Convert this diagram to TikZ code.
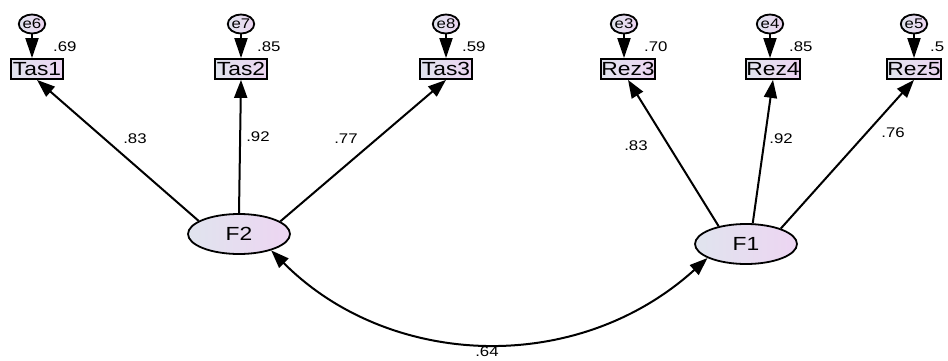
\documentclass[tikz,border=0pt]{standalone}
\usepackage{fontspec}
\setmainfont{Liberation Sans}[FakeStretch=1.2]
\usetikzlibrary{shapes.geometric,arrows.meta}

\definecolor{fillL}{HTML}{E0E4EE}
\definecolor{fillR}{HTML}{EDD5F2}

\tikzset{
	obsbox/.style={draw, line width=1.8pt, rectangle, left color=fillL, right color=fillR,
		inner sep=0pt, minimum width=52pt, minimum height=20pt, font=\fontsize{19}{19}\selectfont},
	errnode/.style={draw, line width=1.8pt, ellipse, left color=fillL, right color=fillR,
		inner sep=0pt, minimum width=25pt, minimum height=19pt, font=\fontsize{14}{14}\selectfont},
	latnode/.style={draw, line width=1.8pt, ellipse, left color=fillL, right color=fillR,
		inner sep=0pt, minimum width=102pt, minimum height=40pt, font=\fontsize{19}{19}\selectfont},
	errtip/.tip={Triangle[length=20pt, width=13pt]},
	loadtip/.tip={Triangle[length=18pt, width=13pt]},
	pathto/.style={line width=2pt, -{loadtip}},
	lbl/.style={font=\fontsize{14}{14}\selectfont, inner sep=0pt},
}

\begin{document}
\begin{tikzpicture}[x=1pt, y=-1pt]
	\useasboundingbox (0,0) rectangle (948,361);

% The factors
\node[latnode] (F2) at (239,234) {F2};
\node[latnode] (F1) at (746,244) {F1};

% Indicators, errors and loadings
\foreach \name/\err/\x/\ex/\res/\fac/\ang/\load/\lx/\ly in {
	Tas1/e6/37/32/.69/F2/162/.83/135/139,
	Tas2/e7/241/241/.85/F2/90/.92/258/137,
	Tas3/e8/446/446/.59/F2/17/.77/346/139,
	Rez3/e3/628/624/.70/F1/147/.83/636/146,
	Rez4/e4/773/770/.85/F1/72/.92/781/139,
	Rez5/e5/914/914/.5/F1/24/.76/893/133}{
		\node[obsbox] (\name) at (\x,69) {\name};
		\node[errnode] (\err) at (\ex,24) {\err};
		\node[lbl, anchor=west] (r\name) at (\x+16,47) {\res};
		% error -> indicator
		\draw[line width=2pt, -{errtip}] (\err) -- (\err |- \name.north);
		% factor -> indicator
		\draw[pathto] (\fac.\ang) -- (\name.south);
		\node[lbl] (l\name) at (\lx,\ly) {\load};
	}

% Covariance
\draw[line width=2pt, {loadtip}-{loadtip}]
	(F2.-27) .. controls (388,368) and (576,377) .. (F1.-160);
\node[lbl] (cov) at (487,352) {.64};
\end{tikzpicture}
\end{document}
